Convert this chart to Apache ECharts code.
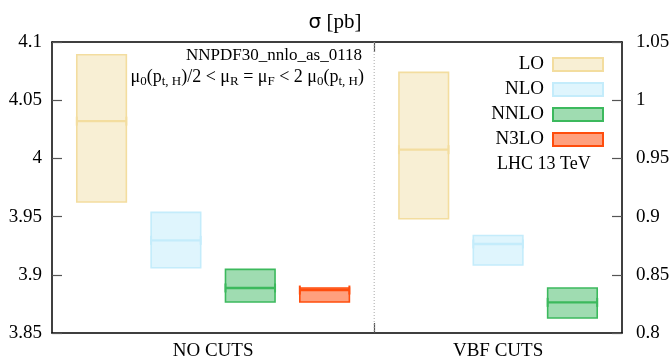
<!DOCTYPE html>
<html>
<head>
<meta charset="utf-8">
<script src="https://cdn.jsdelivr.net/npm/echarts@6/dist/echarts.min.js"></script>
<style>
  html, body { margin: 0; padding: 0; background: #fff; }
  #chart { width: 670px; height: 359px; }
</style>
</head>
<body>
<div id="chart"></div>
<script>
// Scale-variation envelopes of the VBF Higgs cross section, order by order.
const categories = ['NO CUTS', 'VBF CUTS'];
const orders = ['LO', 'NLO', 'NNLO', 'N3LO'];

// NO CUTS, read on the left axis (pb): lower edge, central scale, upper edge
const noCutsLow = [3.9625, 3.9060, 3.8766, 3.8766];
const noCutsCentral = [4.0320, 3.9296, 3.8887, 3.8869];
const noCutsHigh = [4.0890, 3.9536, 3.9047, 3.8886];

// VBF CUTS, read on the right axis (pb)
const vbfLow = [0.8982, 0.8584, 0.8129];
const vbfCentral = [0.9575, 0.8765, 0.8263];
const vbfHigh = [1.0239, 0.8838, 0.8387];

// axis ranges and tick step
const leftRange = [3.85, 4.1];
const rightRange = [0.8, 1.05];
const tickStep = 0.05;

// one colour pair (fill, outline) per order
const fills = ['#f8efd4', '#dff5fd', '#9fdcb1', '#ffa07e'];
const strokes = ['#f3dd9f', '#c4ecfb', '#3cb95d', '#ff4d0d'];

const FONT = 'Liberation Serif';
const HALF = 1 / 3;      // half width of a box, in slot units
const CAP = 4.5;         // half height of the end caps, px
const groupStart = [1, 16 / 3];
const divider = 14 / 3;

function boxRenderer(fill, stroke) {
  return function (params, api) {
    const x = api.value(0);
    const tl = api.coord([x - HALF, api.value(3)]);
    const br = api.coord([x + HALF, api.value(1)]);
    const cl = api.coord([x - HALF, api.value(2)]);
    const cr = api.coord([x + HALF, api.value(2)]);
    return {
      type: 'group',
      children: [
        { type: 'rect', shape: { x: tl[0], y: tl[1], width: br[0] - tl[0], height: br[1] - tl[1] },
          style: { fill: fill, stroke: stroke, lineWidth: 1.6 } },
        { type: 'line', shape: { x1: cl[0], y1: cl[1], x2: cr[0], y2: cr[1] },
          style: { stroke: stroke, lineWidth: 2.4 } },
        { type: 'line', shape: { x1: cl[0], y1: cl[1] - CAP, x2: cl[0], y2: cl[1] + CAP },
          style: { stroke: stroke, lineWidth: 2 } },
        { type: 'line', shape: { x1: cr[0], y1: cr[1] - CAP, x2: cr[0], y2: cr[1] + CAP },
          style: { stroke: stroke, lineWidth: 2 } }
      ]
    };
  };
}

const series = [];
orders.forEach(function (name, i) {
  const itemStyle = { color: fills[i], borderColor: strokes[i], borderWidth: 2 };
  series.push({
    name: name, type: 'custom', xAxisIndex: 0, yAxisIndex: 0,
    renderItem: boxRenderer(fills[i], strokes[i]), itemStyle: itemStyle,
    encode: { x: 0, y: [1, 2, 3] },
    data: [[groupStart[0] + i, noCutsLow[i], noCutsCentral[i], noCutsHigh[i]]]
  });
  if (i < vbfCentral.length) {
    series.push({
      name: name, type: 'custom', xAxisIndex: 0, yAxisIndex: 1,
      renderItem: boxRenderer(fills[i], strokes[i]), itemStyle: itemStyle,
      encode: { x: 0, y: [1, 2, 3] },
      data: [[groupStart[1] + i, vbfLow[i], vbfCentral[i], vbfHigh[i]]]
    });
  }
});

// dotted separator between the two selections
series.unshift({
  type: 'custom', xAxisIndex: 0, yAxisIndex: 0, silent: true,
  renderItem: function (params, api) {
    const cs = params.coordSys;
    const x = api.coord([api.value(0), leftRange[0]])[0];
    return { type: 'line', shape: { x1: x, y1: cs.y, x2: x, y2: cs.y + cs.height },
      style: { stroke: '#a8a8a8', lineWidth: 1, lineDash: [1, 2] } };
  },
  encode: { x: 0 },
  data: [[divider]]
});

const groupCenters = categories.map(function (c, g) {
  const n = g === 0 ? noCutsCentral.length : vbfCentral.length;
  return groupStart[g] + (n - 1) / 2;
});

const yAxisBase = {
  type: 'value', interval: tickStep,
  axisLine: { show: true, lineStyle: { color: '#000', width: 1.5 } },
  axisTick: { show: true, inside: true, length: 10, lineStyle: { color: '#555', width: 1.2 } },
  splitLine: { show: false },
  axisLabel: { color: '#000', fontFamily: FONT, fontSize: 19 }
};

const chart = echarts.init(document.getElementById('chart'));
chart.setOption({
  animation: false,
  backgroundColor: '#fff',
  title: {
    text: '{s|σ} [pb]', left: 'center', top: 7,
    textStyle: { fontFamily: FONT, fontSize: 21, fontWeight: 'normal', color: '#000',
      rich: { s: { fontFamily: 'DejaVu Sans', fontSize: 20, color: '#000' } } }
  },
  grid: { left: 52, right: 48, top: 42, bottom: 26, containLabel: false, outerBoundsMode: 'none' },
  legend: {
    orient: 'vertical', right: 66, top: 55, align: 'right', padding: 0,
    itemWidth: 50, itemHeight: 13, itemGap: 6, icon: 'rect', selectedMode: false,
    textStyle: { fontFamily: FONT, fontSize: 19, color: '#000', padding: [0, 4, 0, 0] },
    data: orders.map(function (name, i) {
      return { name: name, itemStyle: { color: fills[i], borderColor: strokes[i], borderWidth: 2 } };
    })
  },
  xAxis: [
    {
      type: 'value', min: groupStart[0] - 2 / 3, max: 8, position: 'bottom',
      axisLine: { show: true, onZero: false, lineStyle: { color: '#000', width: 1.5 } },
      axisTick: { show: true, inside: true, length: 10, customValues: [divider],
        lineStyle: { color: '#555', width: 1.2 } },
      splitLine: { show: false },
      axisLabel: {
        customValues: groupCenters, margin: 9, color: '#000', fontFamily: FONT, fontSize: 19,
        formatter: function (v) { return v < divider ? categories[0] : categories[1]; }
      }
    },
    {
      type: 'value', min: groupStart[0] - 2 / 3, max: 8, position: 'top',
      axisLine: { show: true, onZero: false, lineStyle: { color: '#000', width: 1.5 } },
      axisTick: { show: true, inside: true, length: 10, customValues: [divider],
        lineStyle: { color: '#555', width: 1.2 } },
      splitLine: { show: false },
      axisLabel: { show: false }
    }
  ],
  yAxis: [
    Object.assign({}, yAxisBase, { min: leftRange[0], max: leftRange[1], position: 'left',
      axisLabel: Object.assign({}, yAxisBase.axisLabel, { margin: 10 }) }),
    Object.assign({}, yAxisBase, { min: rightRange[0], max: rightRange[1], position: 'right',
      axisLabel: Object.assign({}, yAxisBase.axisLabel, { margin: 14 }) })
  ],
  graphic: [
    { type: 'text', x: 362, y: 56,
      style: { text: 'NNPDF30_nnlo_as_0118', align: 'right', verticalAlign: 'middle',
        font: '17px "Liberation Serif"', fill: '#000' } },
    { type: 'text', x: 364, y: 77.5,
      style: {
        text: '{m|μ}{s|0}{m|(p}{s|t, H}{m|)/2 < μ}{s|R}{m| = μ}{s|F}{m| < 2 μ}{s|0}{m|(p}{s|t, H}{m|)}',
        align: 'right', verticalAlign: 'middle', fill: '#000',
        font: '18px "Liberation Serif"',
        rich: {
          m: { fontFamily: FONT, fontSize: 18, lineHeight: 22, fill: '#000' },
          s: { fontFamily: FONT, fontSize: 13, lineHeight: 12, verticalAlign: 'bottom', fill: '#000' }
        }
      } },
    { type: 'text', x: 497, y: 164,
      style: { text: 'LHC 13 TeV', align: 'left', verticalAlign: 'middle',
        font: '18px "Liberation Serif"', fill: '#000' } }
  ],
  series: series
});
</script>
</body>
</html>
